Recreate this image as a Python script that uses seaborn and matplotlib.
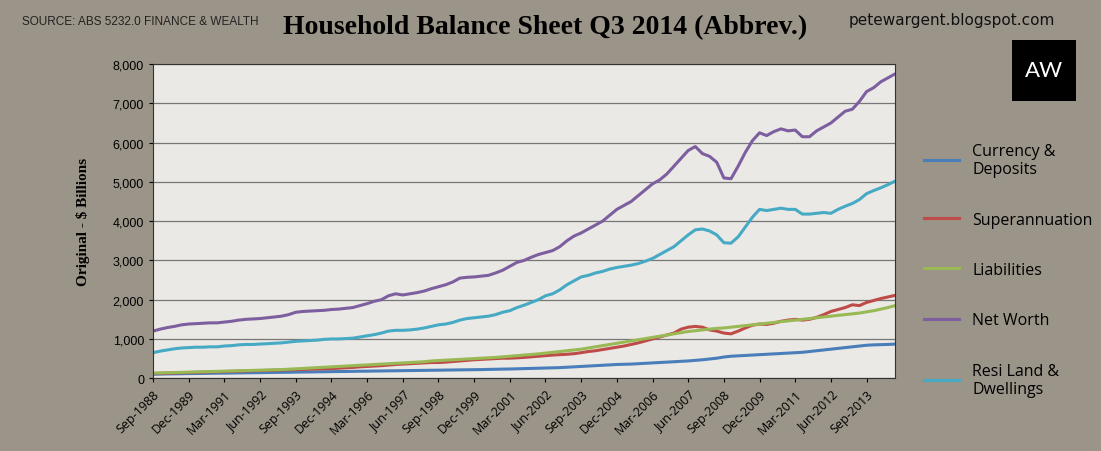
import numpy as np
import pandas as pd
import matplotlib
matplotlib.use("Agg")
import matplotlib.pyplot as plt
import seaborn as sns

# quarterly, Sep-1988 .. Sep-2014 ($ billions)
currency = [100,105,110,112,115,118,120,122,125,128,
            130,132,135,138,140,142,145,148,150,152,
            155,158,160,163,165,168,170,172,175,178,
            180,183,185,188,190,193,195,198,200,203,
            205,208,210,213,215,218,220,225,228,232,
            235,240,245,250,255,260,265,270,280,290,
            300,310,320,330,340,350,355,360,370,380,
            390,400,410,420,430,440,455,470,490,510,
            540,560,570,580,590,600,610,620,630,640,
            650,660,680,700,720,740,760,780,800,820,
            840,850,855,860,870]
superann = [120,125,130,135,140,145,150,155,160,165,
            170,175,180,185,190,195,200,205,210,215,
            220,225,230,235,240,245,255,265,275,290,
            300,310,320,335,350,360,370,380,390,400,
            400,410,425,440,455,470,480,490,500,510,
            510,520,530,545,560,575,590,600,610,625,
            650,680,700,730,760,790,820,860,900,950,
            1000,1050,1100,1150,1250,1300,1320,1300,1230,1200,
            1150,1130,1200,1280,1350,1380,1370,1400,1450,1480,
            1500,1480,1500,1550,1620,1700,1750,1800,1870,1850,
            1930,1980,2030,2070,2110]
liabilities = [130,135,140,145,150,155,160,165,170,175,
               180,185,190,195,200,205,210,215,220,230,
               240,250,260,270,280,290,300,310,320,330,
               340,350,360,370,380,390,400,410,420,440,
               450,460,470,480,490,500,510,520,530,545,
               560,575,590,605,620,640,660,680,700,720,
               740,770,800,830,860,890,920,950,980,1010,
               1040,1070,1100,1130,1160,1190,1210,1230,1250,1270,
               1280,1300,1320,1340,1360,1380,1400,1420,1440,1460,
               1480,1500,1520,1540,1560,1580,1600,1620,1640,1660,
               1690,1720,1760,1800,1850]
net_worth = [1200,1250,1290,1320,1360,1380,1390,1400,1410,1410,
             1430,1450,1480,1500,1510,1520,1540,1560,1580,1620,
             1680,1700,1710,1720,1730,1750,1760,1780,1800,1850,
             1900,1960,2000,2100,2150,2120,2150,2180,2220,2280,
             2330,2380,2450,2550,2570,2580,2600,2620,2680,2750,
             2850,2950,3000,3080,3150,3200,3250,3350,3500,3620,
             3700,3800,3900,4000,4150,4300,4400,4500,4650,4800,
             4950,5050,5200,5400,5600,5800,5900,5720,5650,5500,
             5100,5080,5400,5750,6050,6250,6180,6280,6350,6300,
             6320,6150,6150,6300,6400,6500,6650,6800,6850,7050,
             7300,7400,7550,7650,7750]
resi = [650,690,720,750,770,780,790,790,800,800,
        820,830,850,860,860,870,880,890,900,920,
        940,950,960,970,990,1000,1000,1010,1020,1050,
        1080,1110,1150,1200,1220,1220,1230,1250,1280,1320,
        1360,1380,1420,1480,1520,1540,1560,1580,1620,1680,
        1720,1800,1860,1930,2000,2100,2150,2250,2380,2480,
        2580,2620,2680,2720,2780,2820,2850,2880,2920,2980,
        3050,3150,3250,3350,3500,3650,3780,3800,3750,3650,
        3450,3440,3600,3850,4100,4300,4270,4300,4330,4300,
        4300,4180,4180,4200,4220,4200,4300,4380,4450,4550,
        4700,4780,4850,4930,5020]

series = ["Currency &\nDeposits", "Superannuation", "Liabilities", "Net Worth", "Resi Land &\nDwellings"]
colors = ["#4a7ebb", "#be4b48", "#98b954", "#7d5fa0", "#46aac5"]
quarters = pd.period_range("1988Q3", "2014Q3", freq="Q")
tick_labels = [q.strftime("%b-%Y") for q in quarters[::5]]

df = pd.DataFrame({"q": np.tile(np.arange(len(quarters)), 5),
                   "value": currency + superann + liabilities + net_worth + resi,
                   "series": np.repeat(series, len(quarters))})

fig = plt.figure(figsize=(11.01, 4.52), dpi=100, facecolor="#9b9488")
ax = fig.add_axes([0.139, 0.161, 0.674, 0.695])
ax.set_facecolor("#ebe9e5")
sns.lineplot(data=df, x="q", y="value", hue="series", palette=colors, linewidth=2.2, ax=ax)
ax.set_xlim(0, len(quarters) - 1)
ax.set_ylim(0, 8000)
ax.set_yticks(range(0, 8001, 1000))
ax.set_yticklabels([f"{v:,}" for v in range(0, 8001, 1000)], fontsize=9, family="Liberation Sans")
ax.set_xticks(range(0, len(quarters), 5))
ax.set_xticklabels(tick_labels, rotation=45, ha="right", rotation_mode="anchor", fontsize=9, family="Open Sans")
ax.grid(axis="y", color="#777777", linewidth=0.9)
ax.set_axisbelow(True)
ax.tick_params(length=3)
for s in ax.spines.values():
    s.set_color("#333333")
ax.set_xlabel("")
ax.set_ylabel("Original - $ Billions", fontsize=11, fontweight="bold", family="Liberation Serif")
ax.yaxis.set_label_coords(-0.085, 0.5)

ax.legend(handles=ax.get_legend().legend_handles, labels=series, loc="center left",
          bbox_to_anchor=(1.02, 0.345), frameon=False, labelspacing=2.15,
          handlelength=2.2, prop={"family": "Open Sans", "size": 11.5})

fig.text(0.02, 0.945, "SOURCE: ABS 5232.0 FINANCE & WEALTH", fontsize=8.5, family="Liberation Sans", color="#222222")
fig.text(0.495, 0.925, "Household Balance Sheet Q3 2014 (Abbrev.)", fontsize=20, fontweight="bold",
         family="Liberation Serif", ha="center")
fig.text(0.958, 0.945, "petewargent.blogspot.com", fontsize=11, family="DejaVu Sans", color="#111111", ha="right")
fig.patches.append(plt.Rectangle((0.919, 0.775), 0.058, 0.135, transform=fig.transFigure,
                                 facecolor="black", edgecolor="none"))
fig.text(0.948, 0.842, "AW", fontsize=16, color="white", ha="center", va="center", family="Lato")

fig.savefig("out.png", dpi=100, facecolor=fig.get_facecolor())
